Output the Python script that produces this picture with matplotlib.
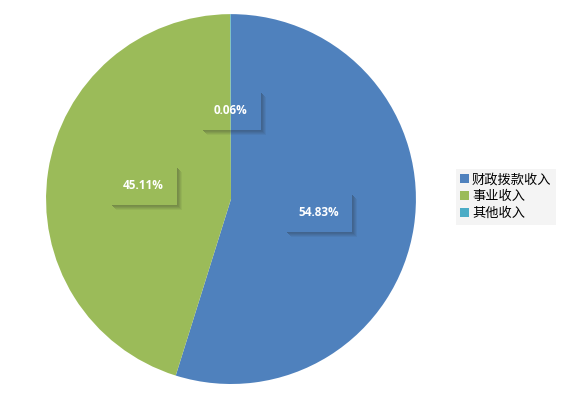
import matplotlib.pyplot as plt
from matplotlib.patches import Rectangle

plt.rcParams['font.family'] = ['Noto Sans CJK SC', 'DejaVu Sans']

labels = ['财政拨款收入', '事业收入', '其他收入']
shares = [54.83, 45.11, 0.06]
colors = ['#4F81BD', '#9BBB59', '#4BACC6']

fig = plt.figure(figsize=(5.61, 3.99), dpi=100)
ax = fig.add_axes([0.082, 0.0376, 0.6595, 0.927])

wedges, texts, autotexts = ax.pie(shares, colors=colors, startangle=90, counterclock=False,
                                  autopct='%.2f%%', pctdistance=0.48,
                                  wedgeprops=dict(linewidth=0))
ax.set_xlim(-1, 1)
ax.set_ylim(-1, 1)
ax.set_aspect('equal')

for t in autotexts:
    t.set_color('white')
    t.set_fontweight('bold')
    t.set_fontsize(8.5)
    t.set_family(['Open Sans', 'DejaVu Sans'])
    t.set_bbox(dict(boxstyle='square,pad=1.1', facecolor='none', edgecolor='none'))

# soft shadow along right and bottom edge of each label box
fig.canvas.draw()
for t in autotexts:
    bb = t.get_bbox_patch().get_window_extent()
    for off, a in [(1, 0.3), (2, 0.27), (3, 0.2), (4, 0.13), (5, 0.06)]:
        fig.patches.append(Rectangle((bb.x1 + off - 1, bb.y0 - off + 1), 1, bb.height - 2,
                                     transform=None, facecolor='#222222', alpha=a,
                                     edgecolor='none'))
        fig.patches.append(Rectangle((bb.x0 + off + 1, bb.y0 - off), bb.width - 1, 1,
                                     transform=None, facecolor='#222222', alpha=a,
                                     edgecolor='none'))

leg = fig.legend(wedges, labels, loc='center left', bbox_to_anchor=(0.812, 0.507),
                 frameon=True, fancybox=False, fontsize=9.5, handlelength=0.65,
                 handleheight=0.65, handletextpad=0.25, labelspacing=0.3,
                 borderpad=0.35, borderaxespad=0)
leg.get_frame().set_facecolor('#F2F2F2')
leg.get_frame().set_edgecolor('none')

fig.savefig('out.png', dpi=100)
